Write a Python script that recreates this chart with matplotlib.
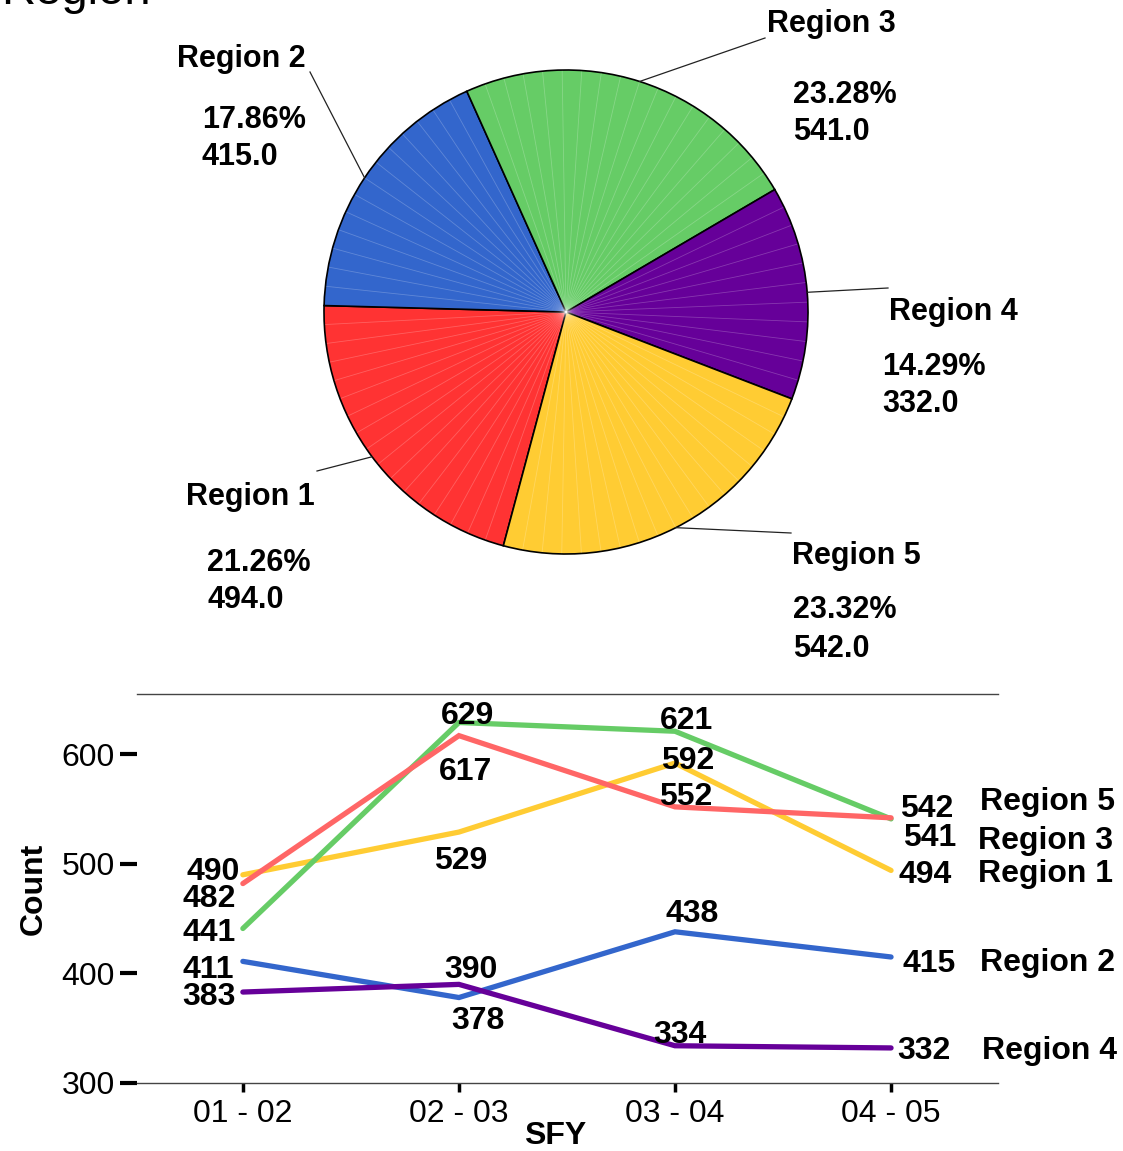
import matplotlib
matplotlib.use('Agg')
import matplotlib.pyplot as plt
import numpy as np

plt.rcParams['font.family'] = ['Liberation Sans', 'DejaVu Sans']

# ---------------- data ----------------
pie_labels = ['Region 1', 'Region 2', 'Region 3', 'Region 4', 'Region 5']
pie_values = [494, 415, 541, 332, 542]
pie_colors = ['#FF3333', '#3366CC', '#66CC66', '#660099', '#FFCC33']

years = ['01 - 02', '02 - 03', '03 - 04', '04 - 05']
region1 = [490, 529, 592, 494]
region2 = [411, 378, 438, 415]
region3 = [441, 629, 621, 541]
region4 = [383, 390, 334, 332]
region5 = [482, 617, 552, 542]

# ---------------- layout / style (pixels) ----------------
W, H = 1123, 1151
fig = plt.figure(figsize=(W / 100, H / 100), dpi=100)


def fx(px):
    return px / W


def fy(py):
    return 1 - py / H


fig.text(fx(1), fy(4), 'Region', fontsize=34, ha='left', va='baseline')

# ---------------- pie ----------------
cx, cy, R = 566, 312, 242
ax_pie = fig.add_axes([fx(cx - R), fy(cy + R), 2 * R / W, 2 * R / H])
wedges, _ = ax_pie.pie(pie_values, colors=pie_colors, startangle=255,
                       counterclock=False, radius=1,
                       wedgeprops=dict(edgecolor='black', linewidth=1.2))
ax_pie.set_xlim(-1, 1)
ax_pie.set_ylim(-1, 1)
ax_pie.set_aspect('equal')
ax_pie.axis('off')

# faint stripes inside the wedges
for w in wedges:
    t1, t2 = w.theta1, w.theta2
    n = max(int((t2 - t1) / 4.5), 1)
    for a in np.linspace(t1, t2, n + 1)[1:-1]:
        r = np.deg2rad(a)
        ax_pie.plot([0, 0.995 * np.cos(r)], [0, 0.995 * np.sin(r)],
                    color='white', alpha=0.22, lw=0.6, zorder=3)

total = sum(pie_values)
# leader end points (px), name label (anchor px, ha), pct label left-x, baselines
leader_end = [(317, 471), (310, 72), (765, 38), (888, 288), (791, 533)]
name_pos = [(315, 505, 'right'), (177, 67, 'left'), (767, 32, 'left'),
            (889, 320, 'left'), (792, 564, 'left')]
pct_pos = [(207, 571, 608), (202, 128, 165), (793, 103, 140),
           (882, 375, 412), (793, 618, 657)]

for i, w in enumerate(wedges):
    a = np.deg2rad((w.theta1 + w.theta2) / 2)
    ex, ey = leader_end[i]
    ax_pie.plot([np.cos(a), (ex - cx) / R], [np.sin(a), (cy - ey) / R],
                color='#222222', lw=0.9, clip_on=False)
    nx, ny, ha = name_pos[i]
    fig.text(fx(nx), fy(ny), pie_labels[i], fontsize=22, fontweight='bold',
             ha=ha, va='baseline')
    px_, b1, b2 = pct_pos[i]
    fig.text(fx(px_), fy(b1), f'{100 * pie_values[i] / total:.2f}%',
             fontsize=22, fontweight='bold', ha='left', va='baseline')
    fig.text(fx(px_), fy(b2), f'{float(pie_values[i]):.1f}',
             fontsize=22, fontweight='bold', ha='left', va='baseline')

# ---------------- line chart ----------------
ax = fig.add_axes([fx(137), fy(1083), (998 - 137) / W, (1083 - 694) / H])
x = np.arange(len(years))

series = [
    ('Region 1', region1, '#FFCC33'),
    ('Region 3', region3, '#66CC66'),
    ('Region 5', region5, '#FF6666'),
    ('Region 2', region2, '#3366CC'),
    ('Region 4', region4, '#660099'),
]
# value label offsets (pixels from point to label centre)
val_off = {
    'Region 1': [(-30, 3), (2, -29), (13, 2), (34, -5)],
    'Region 2': [(-35, -9), (19, -23), (17, 18), (38, -7)],
    'Region 3': [(-34, -5), (9, 6), (12, 10), (39, -19)],
    'Region 4': [(-34, -5), (12, 14), (5, 11), (33, -3)],
    'Region 5': [(-34, -15), (7, -36), (11, 10), (36, 9)],
}
name_off = {'Region 5': (89, 16), 'Region 3': (87, -22), 'Region 1': (87, -4),
            'Region 2': (89, -6), 'Region 4': (91, -3)}

for z, (name, vals, col) in enumerate(series):
    ax.plot(x, vals, color=col, lw=3.8, solid_capstyle='round',
            solid_joinstyle='miter', zorder=2 + z, clip_on=False)
    for i, v in enumerate(vals):
        dx, dy = val_off[name][i]
        ax.annotate(str(v), (x[i], v), xytext=(dx, dy),
                    textcoords='offset pixels', ha='center', va='center',
                    fontsize=23, fontweight='bold', zorder=10)
    dx, dy = name_off[name]
    ax.annotate(name, (x[-1], vals[-1]), xytext=(dx, dy),
                textcoords='offset pixels', ha='left', va='center',
                fontsize=23, fontweight='bold', zorder=10,
                annotation_clip=False)

ax.set_xlim(-0.49, 3.495)
ax.set_ylim(300, 655)
ax.set_xticks(x)
ax.set_xticklabels(years)
ax.set_yticks([300, 400, 500, 600])
for s in ['left', 'right']:
    ax.spines[s].set_visible(False)
for s in ['top', 'bottom']:
    ax.spines[s].set_color('#444444')
    ax.spines[s].set_linewidth(1.0)
ax.tick_params(axis='y', direction='out', length=12.5, width=3, pad=3.5,
               labelsize=23, color='black')
ax.tick_params(axis='x', direction='out', length=6.5, width=2.5, pad=5,
               labelsize=23, color='black')

ax.set_ylabel('Count', fontsize=23, fontweight='bold')
ax.yaxis.set_label_coords((49 - 137) / 861, 0.5)
ax.set_xlabel('SFY', fontsize=23, fontweight='bold')
ax.xaxis.set_label_coords((555 - 137) / 861, (1083 - 1121) / 389)

fig.savefig('out.png', dpi=100)
